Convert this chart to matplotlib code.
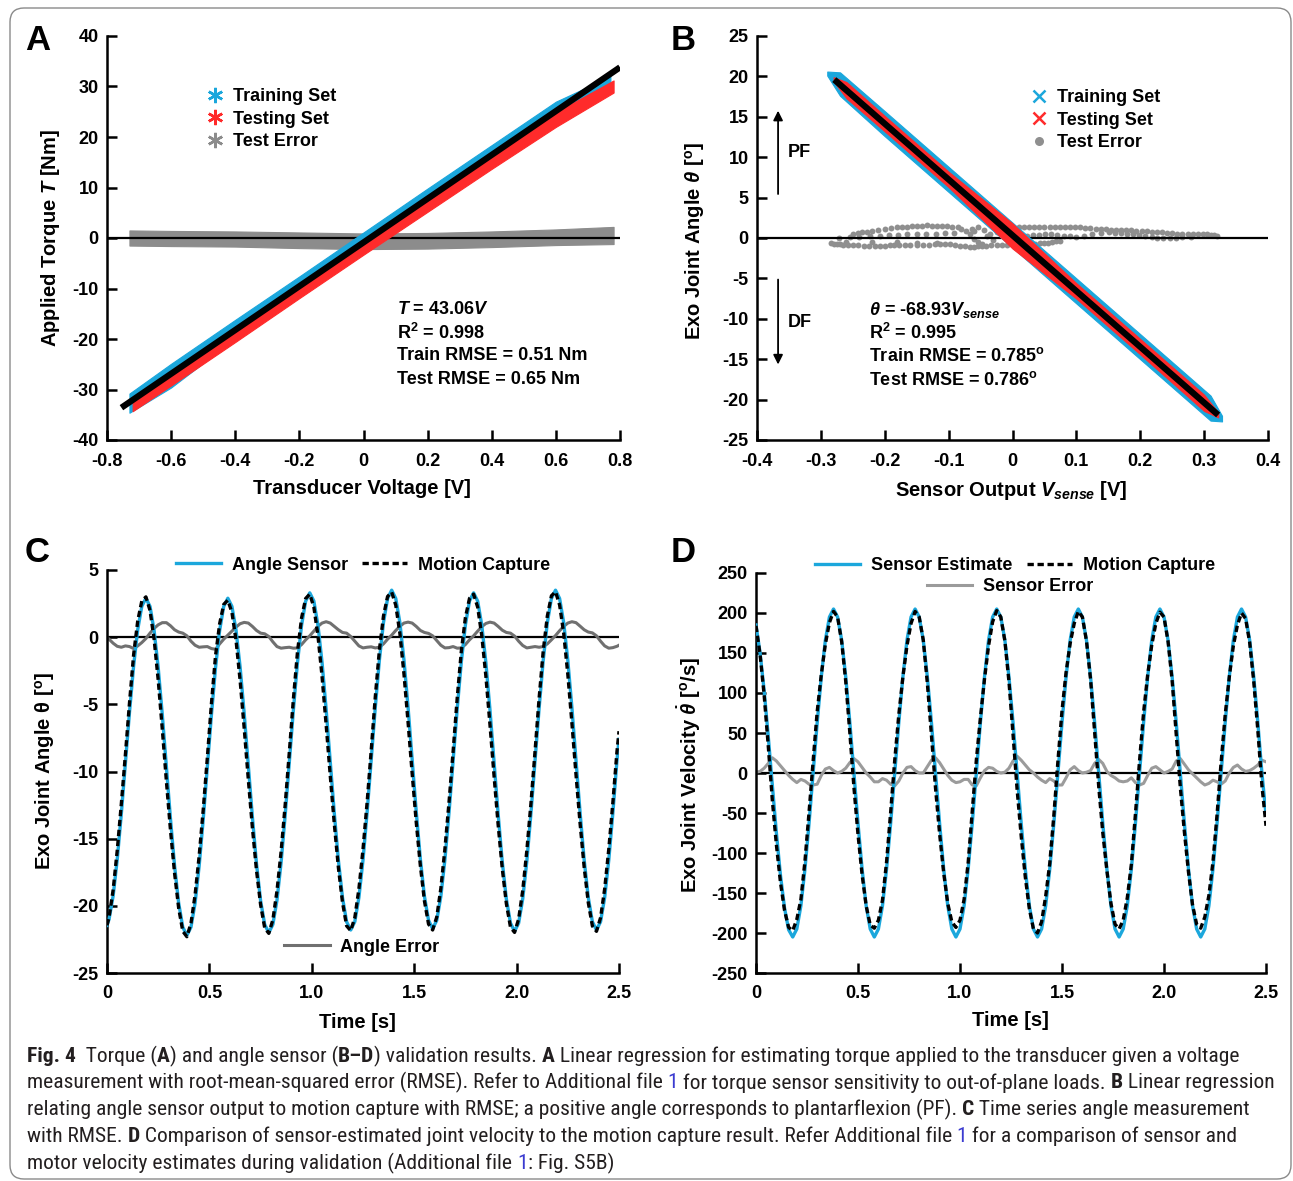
import numpy as np
import matplotlib
matplotlib.use("Agg")
import matplotlib.pyplot as plt
from matplotlib.lines import Line2D
from matplotlib.patches import FancyBboxPatch
from matplotlib.transforms import IdentityTransform
from matplotlib import font_manager as fm

W, H = 1293, 1181

plt.rcParams['font.family'] = ['Liberation Sans', 'DejaVu Sans']
plt.rcParams['font.weight'] = 'bold'
plt.rcParams['axes.labelweight'] = 'bold'
plt.rcParams['axes.unicode_minus'] = False
plt.rcParams['mathtext.fontset'] = 'custom'
plt.rcParams['mathtext.rm'] = 'Liberation Sans:bold'
plt.rcParams['mathtext.bf'] = 'Liberation Sans:bold'
plt.rcParams['mathtext.it'] = 'Liberation Sans:bold:italic'
plt.rcParams['mathtext.default'] = 'rm'

BLUE = '#1ba7dc'
RED = '#ff2b2b'

# ---------------- data: panel A (torque) ----------------
volt_train = [-0.73, -0.6, -0.4, -0.2, 0.0, 0.2, 0.4, 0.6, 0.77]
torque_train_hi = [-30.8, -24.9, -16.2, -7.6, 1.1, 9.8, 18.4, 27.0, 32.0]
torque_train_lo = [-34.6, -29.6, -19.9, -11.2, -2.6, 6.1, 14.8, 23.4, 29.8]
volt_test = [-0.72, -0.6, -0.4, -0.2, 0.0, 0.2, 0.4, 0.6, 0.78]
torque_test_hi = [-32.0, -26.7, -18.0, -9.4, -0.7, 7.9, 16.4, 24.9, 31.2]
torque_test_lo = [-34.3, -29.2, -20.6, -11.9, -3.3, 5.2, 13.7, 22.0, 28.8]
volt_err = [-0.73, -0.6, -0.4, -0.2, 0.0, 0.2, 0.4, 0.6, 0.78]
torque_err_hi = [1.5, 1.4, 1.3, 1.1, 0.9, 1.0, 1.3, 1.7, 2.2]
torque_err_lo = [-1.5, -1.6, -1.7, -2.0, -2.2, -2.1, -1.8, -1.4, -1.2]
fit_volt = [-0.755, 0.80]
fit_torque = [-33.6, 33.8]
a_xticks = [-0.8, -0.6, -0.4, -0.2, 0, 0.2, 0.4, 0.6, 0.8]
a_xlabels = ['-0.8', '-0.6', '-0.4', '-0.2', '0', '0.2', '0.4', '0.6', '0.8']
a_yticks = [-40, -30, -20, -10, 0, 10, 20, 30, 40]

# ---------------- data: panel B (angle regression) ----------------
vsense_train = [-0.29, -0.27, -0.2, -0.1, 0.0, 0.1, 0.2, 0.31, 0.328]
theta_train_hi = [20.6, 20.5, 15.7, 8.8, 1.9, -5.0, -11.9, -19.5, -22.0]
theta_train_lo = [20.1, 17.6, 12.6, 5.7, -1.2, -8.1, -15.0, -22.6, -22.7]
vsense_test = [-0.28, -0.26, -0.2, -0.1, 0.0, 0.1, 0.2, 0.3, 0.322]
theta_test_hi = [19.9, 19.3, 15.1, 8.2, 1.8, -5.6, -12.5, -19.4, -21.6]
theta_test_lo = [19.4, 17.3, 13.2, 6.3, -1.3, -7.5, -14.4, -21.4, -22.2]
fit_vsense = [-0.279, 0.322]
fit_theta = [19.6, -21.9]
vsense_err = [
    # upper row
    -0.249, -0.242, -0.235, -0.228, -0.22, -0.21, -0.2, -0.19, -0.181, -0.173, -0.165, -0.158,
    -0.15, -0.142, -0.134, -0.126, -0.118, -0.11, -0.102, -0.094, -0.086, -0.08, -0.073, -0.064,
    -0.054, -0.045, -0.035, -0.025, -0.015, -0.003, 0.01, 0.018, 0.026, 0.034, 0.042, 0.05,
    0.058, 0.066, 0.074, 0.082, 0.09, 0.098, 0.106, 0.114, 0.122, 0.13, 0.138, 0.146,
    0.154, 0.162, 0.17, 0.178, 0.186, 0.194, 0.202, 0.21, 0.218, 0.226, 0.234, 0.242,
    0.25, 0.258, 0.266, 0.274, 0.282, 0.29, 0.298, 0.304, 0.31, 0.315, 0.32,
    # middle row
    -0.271, -0.255, -0.24, -0.223, -0.207, -0.193, -0.18, -0.165, -0.15, -0.135, -0.12, -0.106,
    -0.092, -0.06, 0.023, 0.032, 0.042, 0.051, 0.061, 0.07, 0.08, 0.09, 0.1, 0.112,
    0.125, 0.138, 0.151, 0.16, 0.17, 0.18, 0.189, 0.198, 0.208, 0.218, 0.227, 0.236,
    0.246, 0.256, 0.266, 0.28,
    # lower row
    -0.284, -0.28, -0.275, -0.27, -0.265, -0.258, -0.25, -0.242, -0.233, -0.225, -0.216, -0.208,
    -0.2, -0.192, -0.185, -0.177, -0.169, -0.16, -0.15, -0.14, -0.13, -0.122, -0.114, -0.106,
    -0.098, -0.09, -0.082, -0.074, -0.066, -0.06, -0.054, -0.048, -0.041, -0.033, -0.025, -0.017,
    -0.009, -0.001, 0.007, 0.015, 0.023, 0.03, 0.036, 0.043, 0.049, 0.056, 0.062, 0.068, 0.074,
    # second lower row and centre cluster
    -0.26, -0.22, -0.181, -0.15, -0.118,
    -0.066, -0.06, -0.054, -0.047, -0.04, -0.03]
theta_err = [
    0.49, 0.6, 0.7, 0.8, 0.9, 1.0, 1.1, 1.2, 1.31, 1.37, 1.42, 1.48,
    1.52, 1.54, 1.55, 1.54, 1.52, 1.5, 1.45, 1.38, 1.31, 1.1, 0.9, 1.15,
    1.39, 0.95, 0.49, 0.7, 0.9, 1.1, 1.31, 1.35, 1.37, 1.38, 1.39, 1.37,
    1.35, 1.33, 1.31, 1.32, 1.33, 1.32, 1.31, 1.26, 1.2, 1.15, 1.1, 1.07,
    1.04, 1.01, 0.98, 0.96, 0.94, 0.92, 0.9, 0.85, 0.8, 0.75, 0.7, 0.65,
    0.6, 0.55, 0.49, 0.5, 0.5, 0.49, 0.49, 0.45, 0.4, 0.35, 0.29,
    0.0, 0.08, 0.15, 0.22, 0.29, 0.35, 0.4, 0.45, 0.49, 0.52, 0.55, 0.56,
    0.57, -0.12, 0.29, 0.35, 0.4, 0.45, 0.49, 0.4, 0.3, 0.23, 0.16, 0.3,
    0.45, 0.58, 0.7, 0.65, 0.6, 0.55, 0.49, 0.37, 0.25, 0.12, 0.0, 0.02,
    0.05, 0.06, 0.08, 0.1,
    -0.66, -0.7, -0.75, -0.78, -0.82, -0.86, -0.9, -0.92, -0.94, -0.95, -0.95, -0.95,
    -0.94, -0.92, -0.9, -0.88, -0.86, -0.85, -0.84, -0.83, -0.82, -0.8, -0.78, -0.76,
    -0.74, -0.85, -0.95, -1.05, -1.15, -1.1, -1.05, -1.0, -0.94, -0.9, -0.88, -0.85,
    -0.82, -0.8, -0.78, -0.76, -0.74, -0.72, -0.7, -0.68, -0.66, -0.58, -0.5, -0.42, -0.33,
    -0.45, -0.5, -0.53, -0.6, -0.66,
    0.49, 0.9, -0.53, -0.74, 0.2, -0.3]
b_xticks = [-0.4, -0.3, -0.2, -0.1, 0, 0.1, 0.2, 0.3, 0.4]
b_xlabels = ['-0.4', '-0.3', '-0.2', '-0.1', '0', '0.1', '0.2', '0.3', '0.4']
b_yticks = [-25, -20, -15, -10, -5, 0, 5, 10, 15, 20, 25]
pf_arrow = [5.1, 16.1]
df_arrow = [-4.8, -16.0]
arrow_vsense = -0.367

# ---------------- data: panel C (angle time series) ----------------
time_c = np.r_[0.0, np.arange(0.01, 2.5, 0.02), 2.5]
angle_sensor = [
    -21.45,
    -21.0, -19.26, -16.55, -13.14, -9.35, -5.56, -2.15, 0.56, 2.30, 2.9,
    2.29, 0.5, -2.27, -5.77, -9.65, -13.53, -17.03, -19.8, -21.59, -22.2,
    -21.59, -19.8, -17.03, -13.53, -9.65, -5.77, -2.27, 0.5, 2.29, 2.9,
    2.29, 0.52, -2.23, -5.70, -9.55, -13.40, -16.87, -19.62, -21.39, -22.0,
    -21.38, -19.58, -16.79, -13.26, -9.35, -5.44, -1.91, 0.88, 2.68, 3.3,
    2.69, 0.9, -1.87, -5.37, -9.25, -13.13, -16.63, -19.4, -21.19, -21.8,
    -21.18, -19.38, -16.59, -13.06, -9.15, -5.24, -1.71, 1.08, 2.88, 3.5,
    2.88, 1.09, -1.69, -5.21, -9.1, -12.99, -16.51, -19.29, -21.08, -21.7,
    -21.09, -19.31, -16.55, -13.06, -9.2, -5.34, -1.85, 0.91, 2.69, 3.3,
    2.68, 0.89, -1.89, -5.41, -9.3, -13.19, -16.71, -19.49, -21.28, -21.9,
    -21.28, -19.47, -16.67, -13.12, -9.2, -5.28, -1.73, 1.07, 2.88, 3.5,
    2.88, 1.08, -1.71, -5.24, -9.15, -13.06, -16.59, -19.38, -21.18, -21.8,
    -21.18, -19.39, -16.61, -13.09, -9.2,
    -7.6]
angle_mocap = [
    -21.45,
    -20.85, -18.81, -15.87, -12.39, -8.7, -4.86, -1.3, 1.21, 2.7, 3.0,
    1.99, -0.15, -3.19, -6.85, -10.73, -14.38, -17.58, -20.18, -21.89, -22.3,
    -21.29, -19.2, -16.28, -12.81, -8.95, -4.92, -1.37, 1.0, 2.44, 2.75,
    1.84, -0.23, -3.23, -6.8, -10.6, -14.2, -17.37, -19.92, -21.64, -22.05,
    -21.03, -18.88, -15.97, -12.48, -8.6, -4.62, -1.11, 1.43, 2.88, 3.2,
    2.24, 0.1, -2.92, -6.52, -10.3, -13.93, -17.18, -19.75, -21.49, -21.85,
    -20.88, -18.73, -15.79, -12.31, -8.43, -4.44, -0.96, 1.58, 3.03, 3.35,
    2.38, 0.29, -2.74, -6.33, -10.15, -13.79, -17.01, -19.64, -21.36, -21.8,
    -20.84, -18.71, -15.75, -12.28, -8.5, -4.52, -1.05, 1.46, 2.89, 3.2,
    2.23, 0.11, -2.91, -6.53, -10.35, -13.99, -17.23, -19.84, -21.58, -21.98,
    -20.98, -18.85, -15.87, -12.37, -8.5, -4.53, -1.03, 1.57, 3.08, 3.38,
    2.4, 0.28, -2.76, -6.39, -10.23, -13.88, -17.14, -19.76, -21.5, -21.9,
    -20.88, -18.74, -15.79, -12.31, -8.52,
    -7.0]
angle_error = [
    0.0,
    -0.15, -0.45, -0.68, -0.75, -0.65, -0.7, -0.85, -0.65, -0.4, -0.1,
    0.3, 0.65, 0.92, 1.08, 1.08, 0.85, 0.55, 0.38, 0.3, 0.1,
    -0.3, -0.6, -0.75, -0.72, -0.7, -0.85, -0.9, -0.5, -0.15, 0.15,
    0.45, 0.75, 1.0, 1.1, 1.05, 0.8, 0.5, 0.3, 0.25, 0.05,
    -0.35, -0.7, -0.82, -0.78, -0.75, -0.82, -0.8, -0.55, -0.2, 0.1,
    0.45, 0.8, 1.05, 1.15, 1.05, 0.8, 0.55, 0.35, 0.3, 0.05,
    -0.3, -0.65, -0.8, -0.75, -0.72, -0.8, -0.75, -0.5, -0.15, 0.15,
    0.5, 0.8, 1.05, 1.12, 1.05, 0.8, 0.5, 0.35, 0.28, 0.1,
    -0.25, -0.6, -0.8, -0.78, -0.7, -0.82, -0.8, -0.55, -0.2, 0.1,
    0.45, 0.78, 1.02, 1.12, 1.05, 0.8, 0.52, 0.35, 0.3, 0.08,
    -0.3, -0.62, -0.8, -0.75, -0.7, -0.75, -0.7, -0.5, -0.2, 0.12,
    0.48, 0.8, 1.05, 1.15, 1.08, 0.82, 0.55, 0.38, 0.32, 0.1,
    -0.3, -0.65, -0.82, -0.78, -0.68,
    -0.6]
c_xticks = [0, 0.5, 1.0, 1.5, 2.0, 2.5]
c_xlabels = ['0', '0.5', '1.0', '1.5', '2.0', '2.5']
c_yticks = [-25, -20, -15, -10, -5, 0, 5]

# ---------------- data: panel D (velocity time series) ----------------
time_d = np.linspace(0, 2.5, 126)
vel_sensor = [
    185, 150, 103, 46, -15, -75, -128, -169, -196, -205,
    -195, -166, -120, -63, 0, 63, 120, 166, 195, 205,
    195, 166, 120, 63, 0, -63, -120, -166, -195, -205,
    -195, -166, -120, -63, 0, 63, 120, 166, 195, 205,
    195, 166, 120, 63, 0, -63, -120, -166, -195, -205,
    -195, -166, -120, -63, 0, 63, 120, 166, 195, 205,
    195, 166, 120, 63, 0, -63, -120, -166, -195, -205,
    -195, -166, -120, -63, 0, 63, 120, 166, 195, 205,
    195, 166, 120, 63, 0, -63, -120, -166, -195, -205,
    -195, -166, -120, -63, 0, 63, 120, 166, 195, 205,
    195, 166, 120, 63, 0, -63, -120, -166, -195, -205,
    -195, -166, -120, -63, 0, 63, 120, 166, 195, 205,
    195, 166, 120, 63, 0, -52]
vel_mocap = [
    184, 148, 97, 34, -34, -90, -137, -172, -193, -197,
    -183, -158, -110, -49, 15, 77, 123, 161, 188, 202,
    195, 164, 114, 50, -18, -77, -127, -166, -190, -194,
    -184, -159, -111, -49, 16, 73, 120, 159, 187, 202,
    195, 166, 112, 47, -19, -76, -125, -163, -186, -193,
    -184, -158, -112, -48, 16, 69, 117, 159, 189, 203,
    195, 165, 114, 48, -21, -79, -130, -170, -195, -200,
    -186, -154, -113, -53, 15, 78, 126, 162, 187, 202,
    195, 165, 117, 51, -17, -75, -122, -163, -189, -195,
    -184, -156, -114, -51, 15, 76, 123, 160, 187, 201,
    195, 164, 115, 48, -18, -74, -124, -165, -189, -194,
    -180, -153, -111, -52, 14, 73, 120, 159, 185, 200,
    193, 163, 114, 53, -16, -66]
vel_error = [
    1, 2, 6, 12, 19, 15, 9, 3, -3, -8, -12, -8, -10, -14, -15, -14, -3, 5, 7, 3,
    0, 2, 6, 13, 18, 14, 7, 0, -5, -11, -11, -7, -9, -14, -16, -10, 0, 7, 8, 3,
    0, 0, 8, 16, 19, 13, 5, -3, -9, -12, -11, -8, -8, -15, -16, -6, 3, 7, 6, 2,
    0, 1, 6, 15, 21, 16, 10, 4, 0, -5, -9, -12, -7, -10, -15, -15, -6, 4, 8, 3,
    0, 1, 3, 12, 17, 12, 2, -3, -6, -10, -11, -10, -6, -12, -15, -13, -3, 6, 8, 4,
    0, 2, 5, 15, 18, 11, 4, -1, -6, -11, -15, -13, -9, -11, -14, -10, 0, 7, 10, 5,
    2, 3, 6, 10, 16, 14]
d_xticks = [0, 0.5, 1.0, 1.5, 2.0, 2.5]
d_xlabels = ['0', '0.5', '1.0', '1.5', '2.0', '2.5']
d_yticks = [-250, -200, -150, -100, -50, 0, 50, 100, 150, 200, 250]

# ---------------- caption ----------------
caption = [
    [("Fig. 4", 'b'), ("  Torque (", 'n'), ("A", 'b'), (") and angle sensor (", 'n'), ("B–D", 'b'),
     (") validation results. ", 'n'), ("A", 'b'),
     (" Linear regression for estimating torque applied to the transducer given a voltage", 'n')],
    [("measurement with root-mean-squared error (RMSE). Refer to Additional file ", 'n'), ("1", 'l'),
     (" for torque sensor sensitivity to out-of-plane loads. ", 'n'), ("B", 'b'), (" Linear regression", 'n')],
    [("relating angle sensor output to motion capture with RMSE; a positive angle corresponds to plantarflexion (PF). ", 'n'),
     ("C", 'b'), (" Time series angle measurement", 'n')],
    [("with RMSE. ", 'n'), ("D", 'b'),
     (" Comparison of sensor-estimated joint velocity to the motion capture result. Refer Additional file ", 'n'),
     ("1", 'l'), (" for a comparison of sensor and", 'n')],
    [("motor velocity estimates during validation (Additional file ", 'n'), ("1", 'l'), (": Fig. S5B)", 'n')],
]

# ---------------- layout helpers ----------------
fig = plt.figure(figsize=(W / 100, H / 100), dpi=100)


def make_axes(box):
    l, t, r, b = box
    ax = fig.add_axes([l / W, 1 - b / H, (r - l) / W, (b - t) / H])
    ax.spines[['top', 'right']].set_visible(False)
    for s in ['left', 'bottom']:
        ax.spines[s].set_linewidth(1.8)
    ax.tick_params(direction='in', length=7, width=1.8, labelsize=13)
    ax.tick_params(axis='x', pad=9)
    ax.tick_params(axis='y', pad=6)
    ax.axhline(0, color='black', lw=1.6, zorder=1.5)
    return ax


def to_axes(box, px, py):
    l, t, r, b = box
    return (px - l) / (r - l), (b - py) / (b - t)


def place_labels(ax, box, xl, yl):
    ax.xaxis.set_label_coords(*to_axes(box, *xl))
    ax.yaxis.set_label_coords(*to_axes(box, *yl))
    ax.xaxis.label.set_va('center')
    ax.yaxis.label.set_va('center')


def ftext(px, py, s, **kw):
    return fig.text(px / W, 1 - py / H, s, **kw)


box_a = (107, 36, 620, 440)
box_b = (757, 36, 1268, 440)
box_c = (107, 570, 619, 973)
box_d = (756, 573, 1266, 973)

# ---------------- panel A ----------------
ax = make_axes(box_a)
ax.fill_between(volt_err, torque_err_lo, torque_err_hi, color='#8c8c8c', lw=0.8, zorder=1)
ax.fill_between(volt_train, torque_train_lo, torque_train_hi, color=BLUE, lw=0.8, zorder=2)
ax.fill_between(volt_test, torque_test_lo, torque_test_hi, color=RED, lw=0.8, zorder=3)
ax.plot(fit_volt, fit_torque, color='black', lw=4.5, solid_capstyle='butt', zorder=4)
ax.set_xlim(-0.8, 0.8)
ax.set_ylim(-40, 40)
ax.set_xticks(a_xticks, a_xlabels)
ax.set_yticks(a_yticks)
ax.set_xlabel('Transducer Voltage [V]', fontsize=14.5)
ax.set_ylabel(r'Applied Torque $\mathit{T}$ [Nm]', fontsize=14.5)
place_labels(ax, box_a, (362, 489), (50, 238))
star = (6, 2, 0)
h = [Line2D([], [], ls='none', marker=star, ms=11, mew=1.8, color=BLUE, label='Training Set'),
     Line2D([], [], ls='none', marker=star, ms=11, mew=1.8, color=RED, label='Testing Set'),
     Line2D([], [], ls='none', marker=star, ms=11, mew=1.8, color='#8c8c8c', label='Test Error')]
ax.legend(handles=h, loc='center', bbox_to_anchor=to_axes(box_a, 271, 119), frameon=False,
          fontsize=13, handlelength=1.0, handletextpad=0.5, labelspacing=0.3, borderpad=0)
for py, s in zip([310, 333, 356, 380],
                 [r'$\mathit{T}$ = 43.06$\mathit{V}$', r'R$^2$ = 0.998',
                  'Train RMSE = 0.51 Nm', 'Test RMSE = 0.65 Nm']):
    ftext(397, py, s, fontsize=13, va='center', ha='left')

# ---------------- panel B ----------------
ax = make_axes(box_b)
ax.fill_between(vsense_train, theta_train_lo, theta_train_hi, color=BLUE, lw=0.8, zorder=2)
ax.fill_between(vsense_test, theta_test_lo, theta_test_hi, color=RED, lw=0.8, zorder=3)
ax.scatter(vsense_err, theta_err, s=18, color='#8f8f8f', lw=0, zorder=1)
ax.plot(fit_vsense, fit_theta, color='black', lw=4.5, solid_capstyle='butt', zorder=4)
ax.annotate('', xy=(arrow_vsense, pf_arrow[1]), xytext=(arrow_vsense, pf_arrow[0]),
            arrowprops=dict(arrowstyle='-|>', color='black', lw=1.3, mutation_scale=14))
ax.annotate('', xy=(arrow_vsense, df_arrow[1]), xytext=(arrow_vsense, df_arrow[0]),
            arrowprops=dict(arrowstyle='-|>', color='black', lw=1.3, mutation_scale=14))
ax.text(arrow_vsense + 0.015, np.mean(pf_arrow), 'PF', fontsize=13, va='center', ha='left')
ax.text(arrow_vsense + 0.015, np.mean(df_arrow), 'DF', fontsize=13, va='center', ha='left')
ax.set_xlim(-0.4, 0.4)
ax.set_ylim(-25, 25)
ax.set_xticks(b_xticks, b_xlabels)
ax.set_yticks(b_yticks)
ax.set_xlabel(r'Sensor Output $\mathit{V_{sense}}$ [V]', fontsize=14.5)
ax.set_ylabel(r'Exo Joint Angle $\mathit{θ}$ [$^{\mathrm{o}}$]', fontsize=14.5)
place_labels(ax, box_b, (1011, 491), (695, 241))
h = [Line2D([], [], ls='none', marker='x', ms=9, mew=1.8, color=BLUE, label='Training Set'),
     Line2D([], [], ls='none', marker='x', ms=9, mew=1.8, color=RED, label='Testing Set'),
     Line2D([], [], ls='none', marker='o', ms=6.5, mew=0, color='#8f8f8f', label='Test Error')]
ax.legend(handles=h, loc='center', bbox_to_anchor=to_axes(box_b, 1095, 120), frameon=False,
          fontsize=13, handlelength=1.0, handletextpad=0.5, labelspacing=0.3, borderpad=0)
for py, s in zip([310, 333, 356, 380],
                 [r'$\mathit{θ}$ = -68.93$\mathit{V_{sense}}$', r'R$^2$ = 0.995',
                  r'Train RMSE = 0.785$^{\mathrm{o}}$', r'Test RMSE = 0.786$^{\mathrm{o}}$']):
    ftext(869, py, s, fontsize=13, va='center', ha='left')

# ---------------- panel C ----------------
ax = make_axes(box_c)
le, = ax.plot(time_c, angle_error, color='#707070', lw=2.2, zorder=2, label='Angle Error')
ls, = ax.plot(time_c, angle_sensor, color=BLUE, lw=2.4, zorder=3, label='Angle Sensor')
lm, = ax.plot(time_c, angle_mocap, color='black', lw=2.4, ls=(0, (1.9, 1.1)), zorder=4,
              label='Motion Capture')
ax.set_xlim(0, 2.5)
ax.set_ylim(-25, 5)
ax.set_xticks(c_xticks, c_xlabels)
ax.set_yticks(c_yticks)
ax.set_xlabel('Time [s]', fontsize=14.5)
ax.set_ylabel(r'Exo Joint Angle θ [$^{\mathrm{o}}$]', fontsize=14.5)
place_labels(ax, box_c, (357, 1023), (45, 771))
leg = ax.legend(handles=[ls, lm], loc='center', bbox_to_anchor=to_axes(box_c, 363, 565), ncol=2,
                frameon=False, fontsize=13, handlelength=2.5, handletextpad=0.6,
                columnspacing=0.8, borderpad=0)
ax.add_artist(leg)
ax.legend(handles=[le], loc='center', bbox_to_anchor=to_axes(box_c, 362, 947), frameon=False,
          fontsize=13, handlelength=2.5, handletextpad=0.6, borderpad=0)

# ---------------- panel D ----------------
ax = make_axes(box_d)
le, = ax.plot(time_d, vel_error, color='#9b9b9b', lw=2.2, zorder=2, label='Sensor Error')
ls, = ax.plot(time_d, vel_sensor, color=BLUE, lw=2.4, zorder=3, label='Sensor Estimate')
lm, = ax.plot(time_d, vel_mocap, color='black', lw=2.4, ls=(0, (1.9, 1.1)), zorder=4,
              label='Motion Capture')
ax.set_xlim(0, 2.5)
ax.set_ylim(-250, 250)
ax.set_xticks(d_xticks, d_xlabels)
ax.set_yticks(d_yticks)
ax.set_xlabel('Time [s]', fontsize=14.5)
ax.set_ylabel(r'Exo Joint Velocity $\dot{\mathit{θ}}$ [$^{\mathrm{o}}$/s]', fontsize=14.5)
place_labels(ax, box_d, (1010, 1021), (689, 775))
leg = ax.legend(handles=[ls, lm], loc='center', bbox_to_anchor=to_axes(box_d, 1015, 566), ncol=2,
                frameon=False, fontsize=13, handlelength=2.5, handletextpad=0.6,
                columnspacing=0.8, borderpad=0)
ax.add_artist(leg)
ax.legend(handles=[le], loc='center', bbox_to_anchor=to_axes(box_d, 1010, 587), frameon=False,
          fontsize=13, handlelength=2.5, handletextpad=0.6, borderpad=0)

# panel letters
for px, py, s in [(38, 40, 'A'), (683, 40, 'B'), (37, 553, 'C'), (683, 553, 'D')]:
    ftext(px, py, s, fontsize=25, ha='center', va='center')

# ---------------- caption ----------------
names = {f.name for f in fm.fontManager.ttflist}
cap_kw = {}
for cand in ['Liberation Sans Narrow', 'Roboto Condensed', 'Open Sans Condensed', 'Noto Sans Condensed']:
    if cand in names:
        cap_kw = {'family': cand}
        break
else:
    if any(f.name == 'DejaVu Sans' and f.stretch == 'condensed' for f in fm.fontManager.ttflist):
        cap_kw = {'family': 'DejaVu Sans', 'fontstretch': 'condensed'}
    else:
        cap_kw = {'family': 'Liberation Sans'}

renderer = fig.canvas.get_renderer()


def run_width(s, size, weight):
    t1 = fig.text(0, 0, s + '|', fontsize=size, fontweight=weight, **cap_kw)
    t2 = fig.text(0, 0, '|', fontsize=size, fontweight=weight, **cap_kw)
    w = t1.get_window_extent(renderer).width - t2.get_window_extent(renderer).width
    t1.remove()
    t2.remove()
    return w


def line_width(runs, size):
    return sum(run_width(s, size, 'bold' if k == 'b' else 'normal') for s, k in runs)


cap_size = 10 * (1268 - 27) / line_width(caption[1], 10)
for i, runs in enumerate(caption):
    x = 27
    py = 1056 + i * 26.8
    for s, k in runs:
        wt = 'bold' if k == 'b' else 'normal'
        col = '#3b3bd0' if k == 'l' else '#231f20'
        ftext(x, py, s, fontsize=cap_size, fontweight=wt, color=col, va='center', ha='left', **cap_kw)
        x += run_width(s, cap_size, wt)

border = FancyBboxPatch((10, 2), 1281, 1171, boxstyle='round,pad=0,rounding_size=14',
                        transform=IdentityTransform(), fill=False, ec='#8a8a8a', lw=1.0)
fig.add_artist(border)

fig.savefig('out.png', dpi=100)
